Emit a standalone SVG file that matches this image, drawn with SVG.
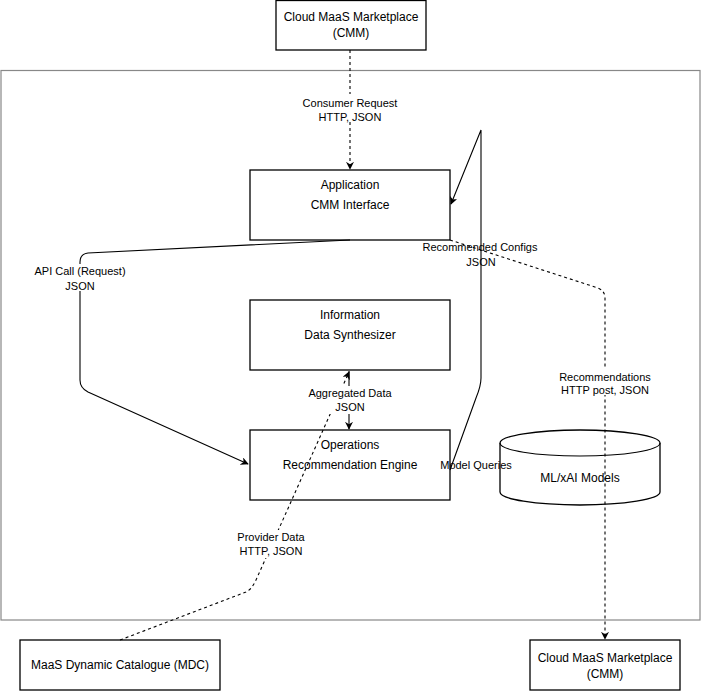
<svg xmlns="http://www.w3.org/2000/svg" width="701" height="691" viewBox="0 0 701 691">
<style>
.box{fill:#fff;stroke:#000;stroke-width:1.3}
.t{font-family:"Liberation Sans",Arial,sans-serif;font-size:12px;fill:#000;text-anchor:middle}
.l{font-family:"Liberation Sans",Arial,sans-serif;font-size:11px;fill:#000;text-anchor:middle}
.lbg{fill:#fff}
.c{fill:none;stroke:#000;stroke-width:1.1}
.d{stroke-dasharray:3 3}
</style>
<defs>
<marker id="ah" viewBox="0 0 10 10" refX="9" refY="5" markerWidth="8" markerHeight="8" markerUnits="userSpaceOnUse" orient="auto">
<path d="M0,0 L10,5 L0,10 L3,5 Z" fill="#000"/>
</marker>
</defs>
<rect id="container" x="1" y="70.5" width="699" height="549.5" fill="#fff" stroke="#888" stroke-width="1.2"/>
<g id="cmm-top">
<rect class="box" x="276" y="0.5" width="150" height="49.5"/>
<text class="t" x="351" y="21">Cloud MaaS Marketplace</text>
<text class="t" x="351" y="37">(CMM)</text>
</g>
<g id="application">
<rect class="box" x="250" y="170" width="200" height="70"/>
<text class="t" x="350" y="189">Application</text>
<text class="t" x="350" y="209">CMM Interface</text>
</g>
<g id="information">
<rect class="box" x="250" y="300" width="200" height="70"/>
<text class="t" x="350" y="319">Information</text>
<text class="t" x="350" y="339">Data Synthesizer</text>
</g>
<g id="operations">
<rect class="box" x="250" y="430" width="200" height="70"/>
<text class="t" x="350" y="449">Operations</text>
<text class="t" x="350" y="469">Recommendation Engine</text>
</g>
<g id="models">
<path class="box" d="M500,443 A80,13 0 0 1 660,443 L660,492 A80,13 0 0 1 500,492 Z"/>
<path class="c" d="M500,443 A80,13 0 0 0 660,443" stroke-width="1.3"/>
<text class="t" x="580" y="482">ML/xAI Models</text>
</g>
<g id="mdc">
<rect class="box" x="20" y="640" width="200" height="50"/>
<text class="t" x="120" y="669">MaaS Dynamic Catalogue (MDC)</text>
</g>
<g id="cmm-bottom">
<rect class="box" x="530" y="640" width="150" height="50"/>
<text class="t" x="605" y="662">Cloud MaaS Marketplace</text>
<text class="t" x="605" y="678">(CMM)</text>
</g>
<g id="connectors">
<path class="c d" d="M350,50 L350,169" marker-end="url(#ah)"/>
<path class="c" d="M350,240 L88,253 Q80,254 80,262 L80,380 Q80,388 88,392 L248,464" marker-end="url(#ah)"/>
<path class="c" d="M450,470 L476,398 Q481,386 481,378 L481,130 L451,204" marker-end="url(#ah)"/>
<path class="c d" d="M450,240 L598,288 Q605,291 605,298 L605,639" marker-end="url(#ah)"/>
<path class="c" d="M349,371 L349,429" marker-end="url(#ah)"/>
<path class="c d" d="M120,640 L246,592 Q252,589 256,580 L349,372" marker-end="url(#ah)"/>
</g>
<g id="labels">
<rect class="lbg" x="302" y="94" width="96" height="27"/>
<text class="l" x="350" y="107">Consumer Request</text>
<text class="l" x="350" y="121">HTTP, JSON</text>
<rect class="lbg" x="32" y="264" width="96" height="27"/>
<text class="l" x="80" y="275">API Call (Request)</text>
<text class="l" x="80" y="290">JSON</text>
<text class="l" x="480" y="251">Recommended Configs</text>
<text class="l" x="481" y="266">JSON</text>
<rect class="lbg" x="558" y="368" width="94" height="27"/>
<text class="l" x="605" y="381">Recommendations</text>
<text class="l" x="605" y="394">HTTP post, JSON</text>
<rect class="lbg" x="308" y="386" width="84" height="28"/>
<text class="l" x="350" y="397">Aggregated Data</text>
<text class="l" x="350" y="411">JSON</text>
<rect class="lbg" x="237" y="530" width="68" height="28"/>
<text class="l" x="271" y="541">Provider Data</text>
<text class="l" x="271" y="555">HTTP, JSON</text>
<text class="l" x="476" y="469">Model Queries</text>
</g>
</svg>
